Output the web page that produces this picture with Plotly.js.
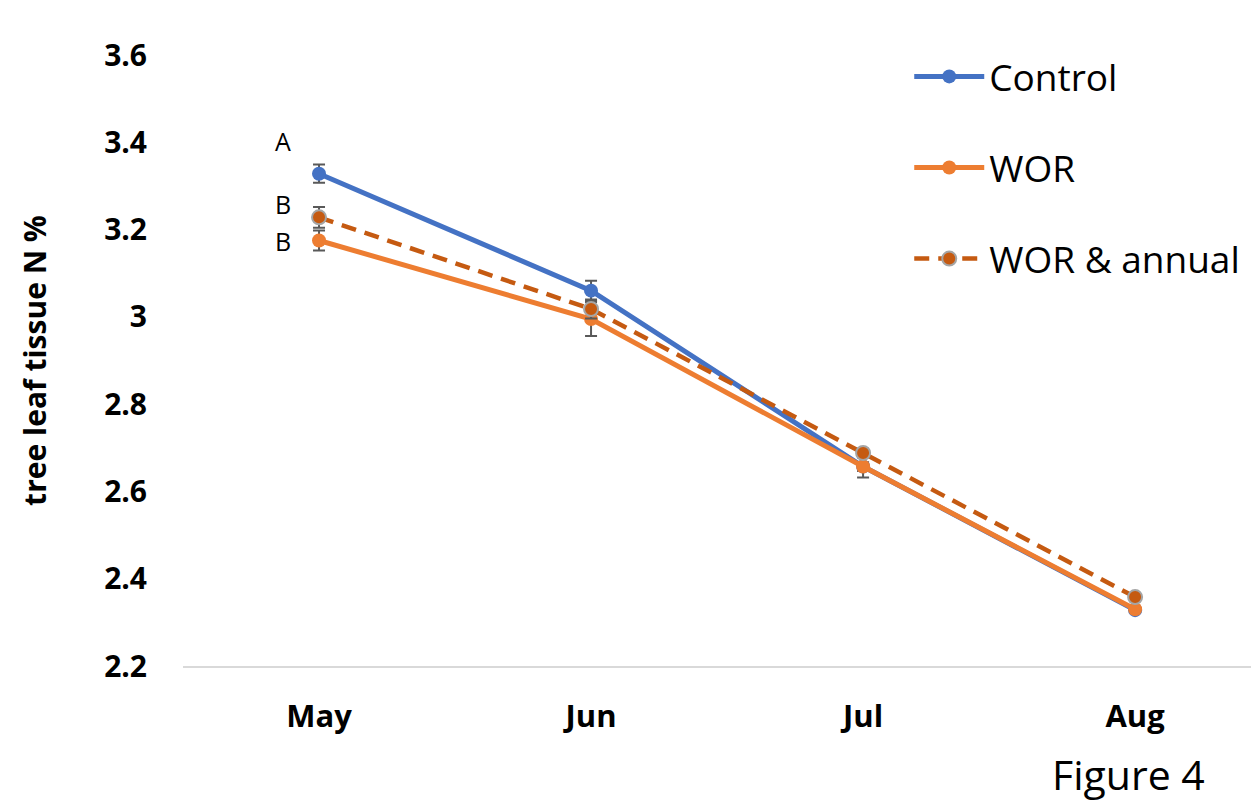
<!DOCTYPE html>
<html>
<head>
<meta charset="utf-8">
<script src="https://cdn.plot.ly/plotly-3.0.1.min.js"></script>
<style>html,body{margin:0;padding:0;background:#fff}#chart{width:1251px;height:803px}</style>
</head>
<body>
<div id="chart"></div>
<script>
const months = ["May", "Jun", "Jul", "Aug"];
const controlN = [3.328, 3.060, 2.657, 2.328];
const controlErr = [0.021, 0.023, 0.010, 0.004];
const worN = [3.175, 2.995, 2.657, 2.330];
const worErr = [0.023, 0.039, 0.025, 0.004];
const worAnnualN = [3.228, 3.018, 2.688, 2.358];
const worAnnualErr = [0.024, 0.022, 0.010, 0.004];
const yTicks = [2.2, 2.4, 2.6, 2.8, 3, 3.2, 3.4, 3.6];
const yTickText = ["2.2", "2.4", "2.6", "2.8", "3", "3.2", "3.4", "3.6"];
const letters = [
  {month: "May", y: 3.328, text: "A", shift: 33},
  {month: "May", y: 3.228, text: "B", shift: 13},
  {month: "May", y: 3.175, text: "B", shift: -1}
];

const FONT = "Open Sans, Noto Sans, sans-serif";
const errStyle = {type: "data", visible: true, color: "#595959", thickness: 2, width: 6};

const traces = [
  {x: months, y: controlN, name: "Control", type: "scatter", mode: "lines+markers",
   legendgroup: "a",
   line: {color: "#4472C4", width: 5},
   marker: {color: "#4472C4", size: 14},
   error_y: Object.assign({array: controlErr}, errStyle)},
  {x: months, y: worN, name: "WOR", type: "scatter", mode: "lines+markers",
   legendgroup: "b",
   line: {color: "#ED7D31", width: 5},
   marker: {color: "#ED7D31", size: 14},
   error_y: Object.assign({array: worErr}, errStyle)},
  {x: months, y: worAnnualN, name: "WOR & annual", type: "scatter", mode: "lines+markers",
   legendgroup: "c",
   line: {color: "#C55A11", width: 4.5, dash: "15px,9px"},
   marker: {color: "#C55A11", size: 14, line: {color: "#A5A5A5", width: 2}},
   error_y: Object.assign({array: worAnnualErr}, errStyle)}
];

const annotations = letters.map(l => ({
  x: l.month, y: l.y, xref: "x", yref: "y", text: l.text, showarrow: false,
  xshift: -36, yshift: l.shift, font: {family: FONT, size: 25, color: "#000"}
}));
annotations.push({
  x: 1, y: 0, xref: "paper", yref: "paper", xanchor: "right", yanchor: "top",
  xshift: -44, yshift: -78,
  text: "Figure 4", showarrow: false, font: {family: FONT, size: 41, color: "#000"}
});

const layout = {
  width: 1251, height: 803,
  margin: {l: 183, r: 0, t: 55, b: 137},
  paper_bgcolor: "#fff", plot_bgcolor: "#fff",
  showlegend: true,
  legend: {x: 0.68, y: 1.015, xanchor: "left", yanchor: "top",
           font: {family: FONT, size: 37, color: "#000"},
           tracegroupgap: 40, itemwidth: 70, bgcolor: "rgba(0,0,0,0)"},
  xaxis: {type: "category", range: [-0.5, 3.426], showgrid: false, zeroline: false,
          showline: true, linecolor: "#D9D9D9", linewidth: 2, ticks: "",
          tickfont: {family: FONT, size: 31, color: "#000", weight: "bold"},
          ticklabelstandoff: 22, fixedrange: true},
  yaxis: {range: [2.2, 3.6], showgrid: false, zeroline: false, showline: false,
          tickmode: "array", tickvals: yTicks, ticktext: yTickText, ticks: "",
          tickfont: {family: FONT, size: 30, color: "#000", weight: "bold"},
          ticklabelstandoff: 35,
          title: {text: "tree leaf tissue N %", standoff: 48,
                  font: {family: FONT, size: 30, color: "#000", weight: "bold"}},
          fixedrange: true},
  annotations: annotations
};

Plotly.newPlot("chart", traces, layout, {displayModeBar: false, staticPlot: true});
</script>
</body>
</html>
